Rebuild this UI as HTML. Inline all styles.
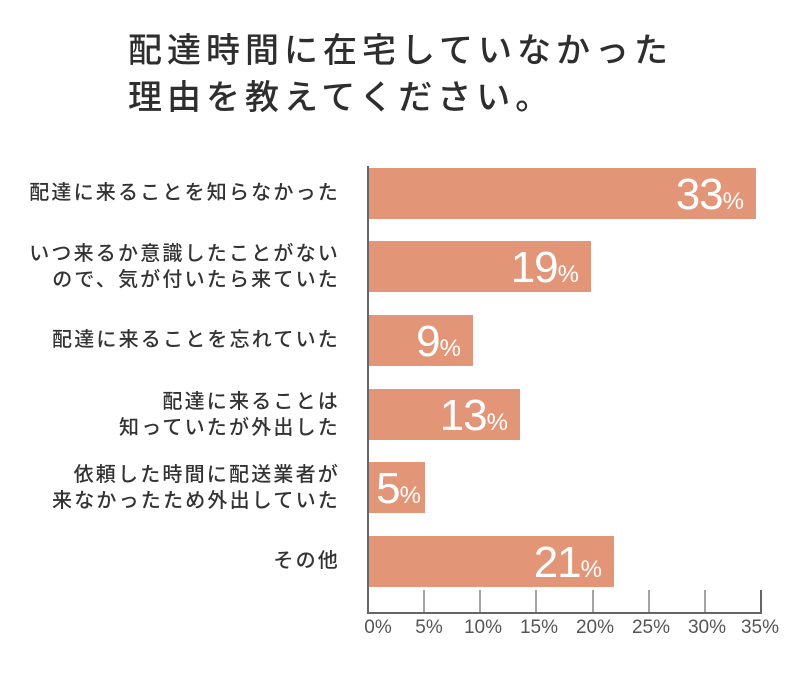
<!DOCTYPE html>
<html><head><meta charset="utf-8"><style>
body{margin:0;width:800px;height:698px;background:#fff;position:relative;overflow:hidden;font-family:"Liberation Sans","Noto Sans CJK JP",sans-serif;color:#333}
.t{position:absolute;left:128px;font-size:34px;letter-spacing:5px;line-height:1;color:#2e2e2e;font-weight:500}
.l{position:absolute;right:462px;text-align:right;font-size:20px;line-height:26px;letter-spacing:2.2px;margin-right:-2px;font-weight:500;color:#333}
.b{position:absolute;left:369px;height:51px;background:#e29577}
.v{position:absolute;color:#fff;font-size:44px;line-height:53px;text-align:right;letter-spacing:-1px}
.v span{font-size:24px;letter-spacing:0}
.x{position:absolute;top:617px;font-size:19px;color:#555;transform:translateX(-50%)}
</style></head><body>
<div class="t" style="top:34px">配達時間に在宅していなかった</div>
<div class="t" style="top:81px">理由を教えてください。</div>

<div class="l" style="top:180px">配達に来ることを知らなかった</div>
<div class="l" style="top:241px">いつ来るか意識したことがない<br>ので、気が付いたら来ていた</div>
<div class="l" style="top:327px">配達に来ることを忘れていた</div>
<div class="l" style="top:389px">配達に来ることは<br>知っていたが外出した</div>
<div class="l" style="top:462px">依頼した時間に配送業者が<br>来なかったため外出していた</div>
<div class="l" style="top:548px">その他</div>

<div class="b" style="top:168px;width:387px"></div>
<div class="b" style="top:241px;width:222px"></div>
<div class="b" style="top:315px;width:104px"></div>
<div class="b" style="top:389px;width:151px"></div>
<div class="b" style="top:462px;width:56px"></div>
<div class="b" style="top:536px;width:245px"></div>

<div class="v" style="top:168px;right:56px">33<span>%</span></div>
<div class="v" style="top:241px;right:221px">19<span>%</span></div>
<div class="v" style="top:315px;right:339px">9<span>%</span></div>
<div class="v" style="top:389px;right:292px">13<span>%</span></div>
<div class="v" style="top:462px;right:379px">5<span>%</span></div>
<div class="v" style="top:536px;right:198px">21<span>%</span></div>

<svg style="position:absolute;left:0;top:0" width="800" height="698">
<g stroke="#666" stroke-width="2" fill="none">
<path d="M368 166V613H761V590"/>
<path d="M424 590V613M480 590V613M536 590V613M593 590V613M649 590V613M705 590V613" stroke-width="1.2"/>
</g></svg>
<div class="x" style="left:378px">0%</div>
<div class="x" style="left:429px">5%</div>
<div class="x" style="left:483px">10%</div>
<div class="x" style="left:539px">15%</div>
<div class="x" style="left:595px">20%</div>
<div class="x" style="left:651px">25%</div>
<div class="x" style="left:707px">30%</div>
<div class="x" style="left:760px">35%</div>
</body></html>
